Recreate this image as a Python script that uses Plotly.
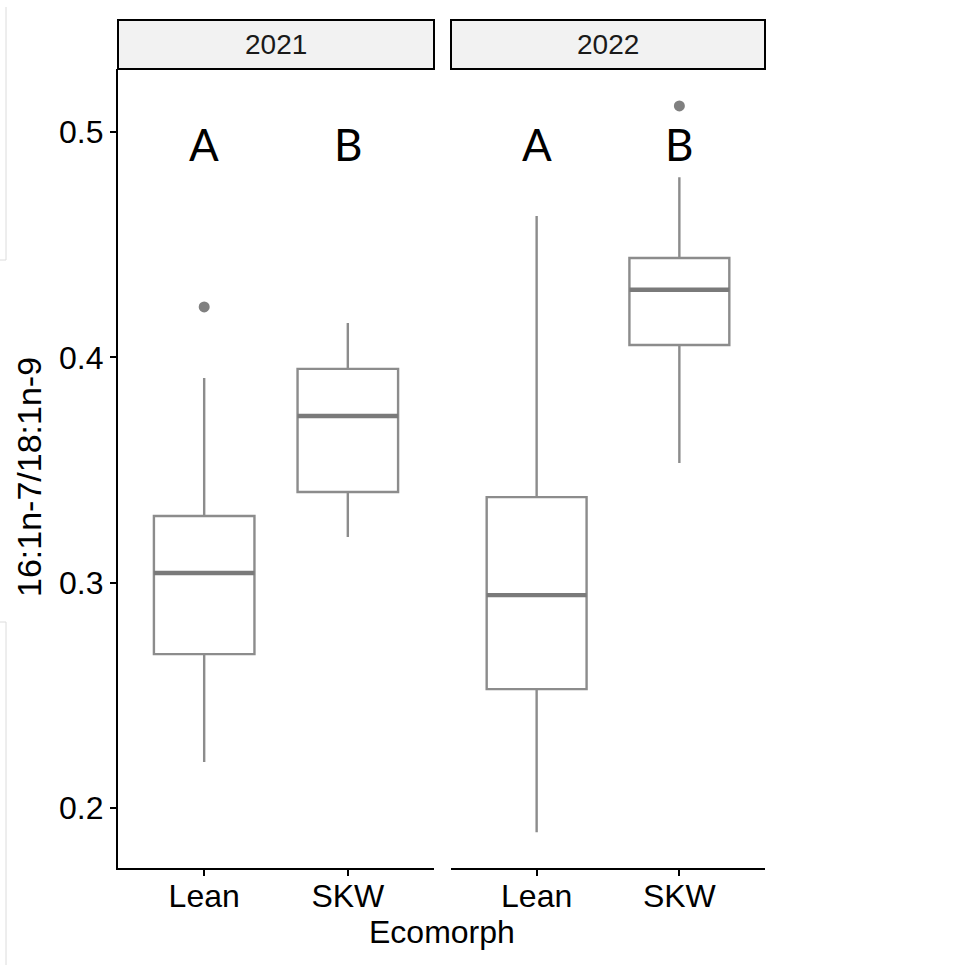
import plotly.graph_objects as go

# ---- data ----
years = ["2021", "2022"]
categories = ["Lean", "SKW"]
q1 = {"2021": [0.2683, 0.3403], "2022": [0.2528, 0.4055]}
median = {"2021": [0.3043, 0.3740], "2022": [0.2945, 0.4300]}
q3 = {"2021": [0.3296, 0.3949], "2022": [0.3380, 0.4441]}
lower_whisker = {"2021": [0.2204, 0.3203], "2022": [0.1893, 0.3531]}
upper_whisker = {"2021": [0.3909, 0.4153], "2022": [0.4628, 0.4800]}
outlier_cat = {"2021": [0], "2022": [1]}
outlier_val = {"2021": [0.4224], "2022": [0.5116]}
letters = ["A", "B"]
letter_y = 0.4945
y_ticks = [0.2, 0.3, 0.4, 0.5]
y_range = [0.1734, 0.528]

W, H = 959, 965
BOX_W = 0.7
BOX_LINE = "#8c8c8c"
MED_LINE = "#7a7a7a"
FONT = "Liberation Sans, Arial, sans-serif"

def px_x(p):
    return p / W

def px_y(p):
    return 1 - p / H

panels = [(118, 434), (451, 765)]
top, bottom = 69, 868

fig = go.Figure()

for i, yr in enumerate(years):
    xa = "x" if i == 0 else "x2"
    ya = "y" if i == 0 else "y2"
    pos = list(range(len(categories)))
    fig.add_trace(go.Box(
        x=pos, q1=q1[yr], median=median[yr], q3=q3[yr],
        lowerfence=lower_whisker[yr], upperfence=upper_whisker[yr],
        boxpoints=False, width=BOX_W, fillcolor="white",
        line=dict(color=BOX_LINE, width=2.4), whiskerwidth=0,
        xaxis=xa, yaxis=ya, showlegend=False, hoverinfo="skip"))
    # thicker median segments
    for j, m in enumerate(median[yr]):
        fig.add_trace(go.Scatter(
            x=[j - BOX_W / 2, j + BOX_W / 2], y=[m, m], mode="lines",
            line=dict(color=MED_LINE, width=4.4), xaxis=xa, yaxis=ya,
            showlegend=False, hoverinfo="skip"))
    fig.add_trace(go.Scatter(
        x=outlier_cat[yr], y=outlier_val[yr], mode="markers",
        marker=dict(color="#808080", size=11), xaxis=xa, yaxis=ya,
        showlegend=False, hoverinfo="skip"))
    for j, L in enumerate(letters):
        fig.add_annotation(x=j, y=letter_y, xref=xa, yref=ya, text=L,
                           showarrow=False, yanchor="middle",
                           font=dict(family="Lato, Open Sans, sans-serif",
                                     size=44, color="black"))

xcommon = dict(range=[-0.6, 1.6], tickmode="array", tickvals=[0, 1],
               ticktext=categories, ticks="outside", ticklen=6, tickwidth=2,
               tickcolor="black", showline=True, linecolor="black",
               linewidth=2.2, showgrid=False, zeroline=False,
               tickfont=dict(family=FONT, size=32, color="black"),
               ticklabelstandoff=-8,
               automargin=False, fixedrange=True)
fig.update_layout(
    width=W, height=H, margin=dict(l=0, r=0, t=0, b=0),
    paper_bgcolor="white", plot_bgcolor="white",
    xaxis=dict(domain=[px_x(panels[0][0]), px_x(panels[0][1])], anchor="y", **xcommon),
    xaxis2=dict(domain=[px_x(panels[1][0]), px_x(panels[1][1])], anchor="y2", **xcommon),
    yaxis=dict(domain=[px_y(bottom), px_y(top)], range=y_range, tickvals=y_ticks,
               ticktext=[f"{v:.1f}" for v in y_ticks], ticks="outside",
               ticklen=6, tickwidth=2, tickcolor="black", showline=True,
               linecolor="black", linewidth=2.2, showgrid=False,
               zeroline=False, anchor="x",
               tickfont=dict(family=FONT, size=32, color="black"),
               automargin=False, fixedrange=True),
    yaxis2=dict(domain=[px_y(bottom), px_y(top)], range=y_range,
                showticklabels=False, ticks="", showline=False,
                showgrid=False, zeroline=False, anchor="x2",
                matches="y", fixedrange=True),
)

# facet strips
for (x0, x1), yr in zip(panels, years):
    fig.add_shape(type="rect", xref="paper", yref="paper",
                  x0=px_x(x0), x1=px_x(x1), y0=px_y(69), y1=px_y(20),
                  fillcolor="#f2f2f2", line=dict(color="black", width=2))
    fig.add_annotation(xref="paper", yref="paper", x=px_x((x0 + x1) / 2),
                       y=px_y(45), text=yr, showarrow=False,
                       yanchor="middle", xanchor="center",
                       font=dict(family=FONT, size=28, color="#1a1a1a"))

# axis titles
fig.add_annotation(xref="paper", yref="paper", x=px_x(441.5), y=px_y(932),
                   text="Ecomorph", showarrow=False, yanchor="middle",
                   xanchor="center", font=dict(family=FONT, size=32, color="black"))
fig.add_annotation(xref="paper", yref="paper", x=px_x(29), y=px_y(477),
                   text="16:1n-7/18:1n-9", showarrow=False, textangle=-90,
                   yanchor="middle", xanchor="center",
                   font=dict(family=FONT, size=34, color="black"))

# faint screenshot edge lines
for (y0, y1) in [(7, 260), (622, 965)]:
    fig.add_shape(type="line", xref="paper", yref="paper",
                  x0=px_x(6), x1=px_x(6), y0=px_y(y0), y1=px_y(y1),
                  line=dict(color="#dcdcdc", width=1))
fig.add_shape(type="line", xref="paper", yref="paper", x0=0, x1=px_x(6),
              y0=px_y(260), y1=px_y(260), line=dict(color="#dcdcdc", width=1))
fig.add_shape(type="line", xref="paper", yref="paper", x0=0, x1=px_x(6),
              y0=px_y(622), y1=px_y(622), line=dict(color="#dcdcdc", width=1))

fig.write_html("out.html")
